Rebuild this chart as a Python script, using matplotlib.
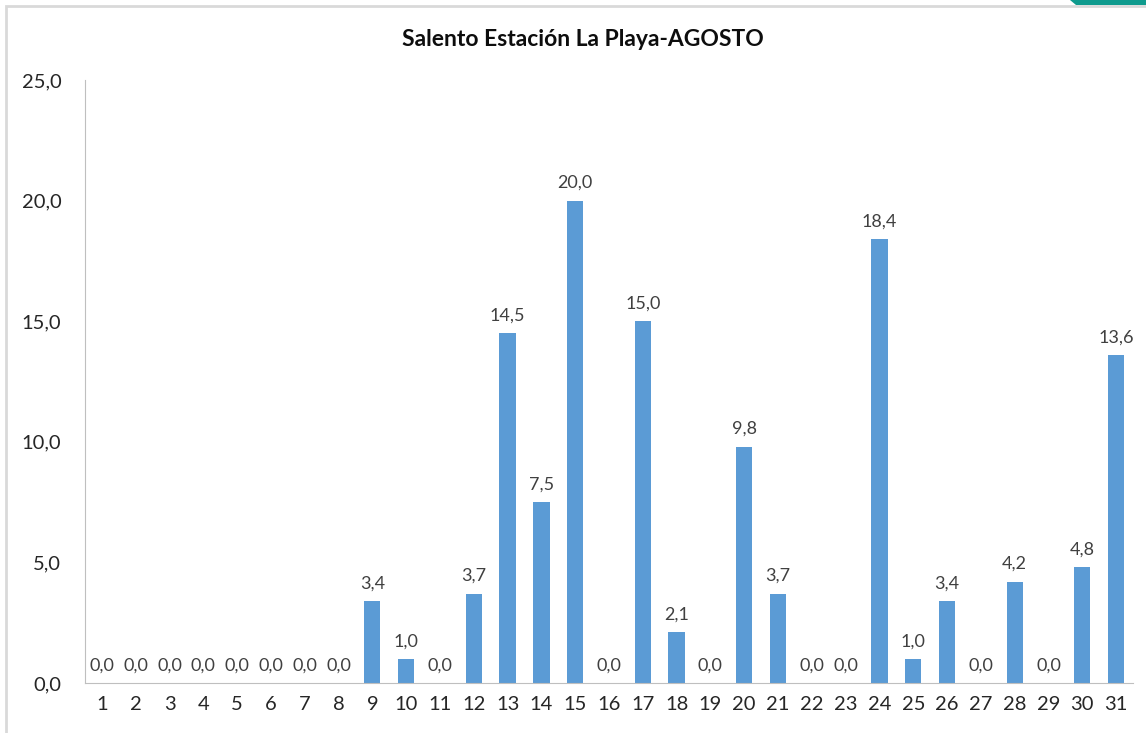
import matplotlib
matplotlib.use("Agg")
import matplotlib.pyplot as plt
from matplotlib.patches import Rectangle, Polygon

# datos
dias = [str(d) for d in range(1, 32)]
lluvia = [0.0, 0.0, 0.0, 0.0, 0.0, 0.0, 0.0, 0.0, 3.4, 1.0, 0.0, 3.7, 14.5, 7.5, 20.0, 0.0,
          15.0, 2.1, 0.0, 9.8, 3.7, 0.0, 0.0, 18.4, 1.0, 3.4, 0.0, 4.2, 0.0, 4.8, 13.6]
y_ticks = [0, 5, 10, 15, 20, 25]

plt.rcParams["font.family"] = ["Lato", "DejaVu Sans"]

fig = plt.figure(figsize=(11.46, 7.33), dpi=100)
ax = fig.add_axes([85 / 1146, 1 - 683 / 733, (1133 - 85) / 1146, (683 - 80) / 733])

x = list(range(len(dias)))
barras = ax.bar(x, lluvia, width=0.48, color="#5B9BD5", zorder=2)

for xi, v in zip(x, lluvia):
    ax.text(xi, v + 0.4, f"{v:.1f}".replace(".", ","), ha="center", va="bottom",
            fontsize=13, color="#404040")

ax.set_xlim(-0.5, len(dias) - 0.5)
ax.set_ylim(0, 25)
ax.set_xticks(x)
ax.set_xticklabels(dias, fontsize=14.5, color="#262626")
ax.set_yticks(y_ticks)
ax.set_yticklabels([f"{t:.1f}".replace(".", ",") for t in y_ticks], fontsize=14.5, color="#262626")
ax.tick_params(axis="both", length=0)
ax.tick_params(axis="y", pad=17)
ax.tick_params(axis="x", pad=9)

for s in ["top", "right"]:
    ax.spines[s].set_visible(False)
ax.spines["left"].set_color("#BFBFBF")
ax.spines["bottom"].set_color("#BFBFBF")

fig.text(583 / 1146, 1 - 40 / 733, "Salento Estación La Playa-AGOSTO", ha="center", va="center",
         fontsize=16.5, fontweight="bold", color="#0D0D0D")

# marco y detalle de esquina
fig.patches.append(Rectangle((6 / 1146, -0.05), 1.1, 1 - 6 / 733 + 0.05, transform=fig.transFigure,
                             fill=False, edgecolor="#D9D9D9", lw=2))
fig.patches.append(Polygon([(1070 / 1146, 1), (1.0, 1), (1.0, 1 - 5 / 733), (1076 / 1146, 1 - 5 / 733)],
                           closed=True, transform=fig.transFigure, facecolor="#0F9B8E", edgecolor="none"))

fig.savefig("out.png", dpi=100)
